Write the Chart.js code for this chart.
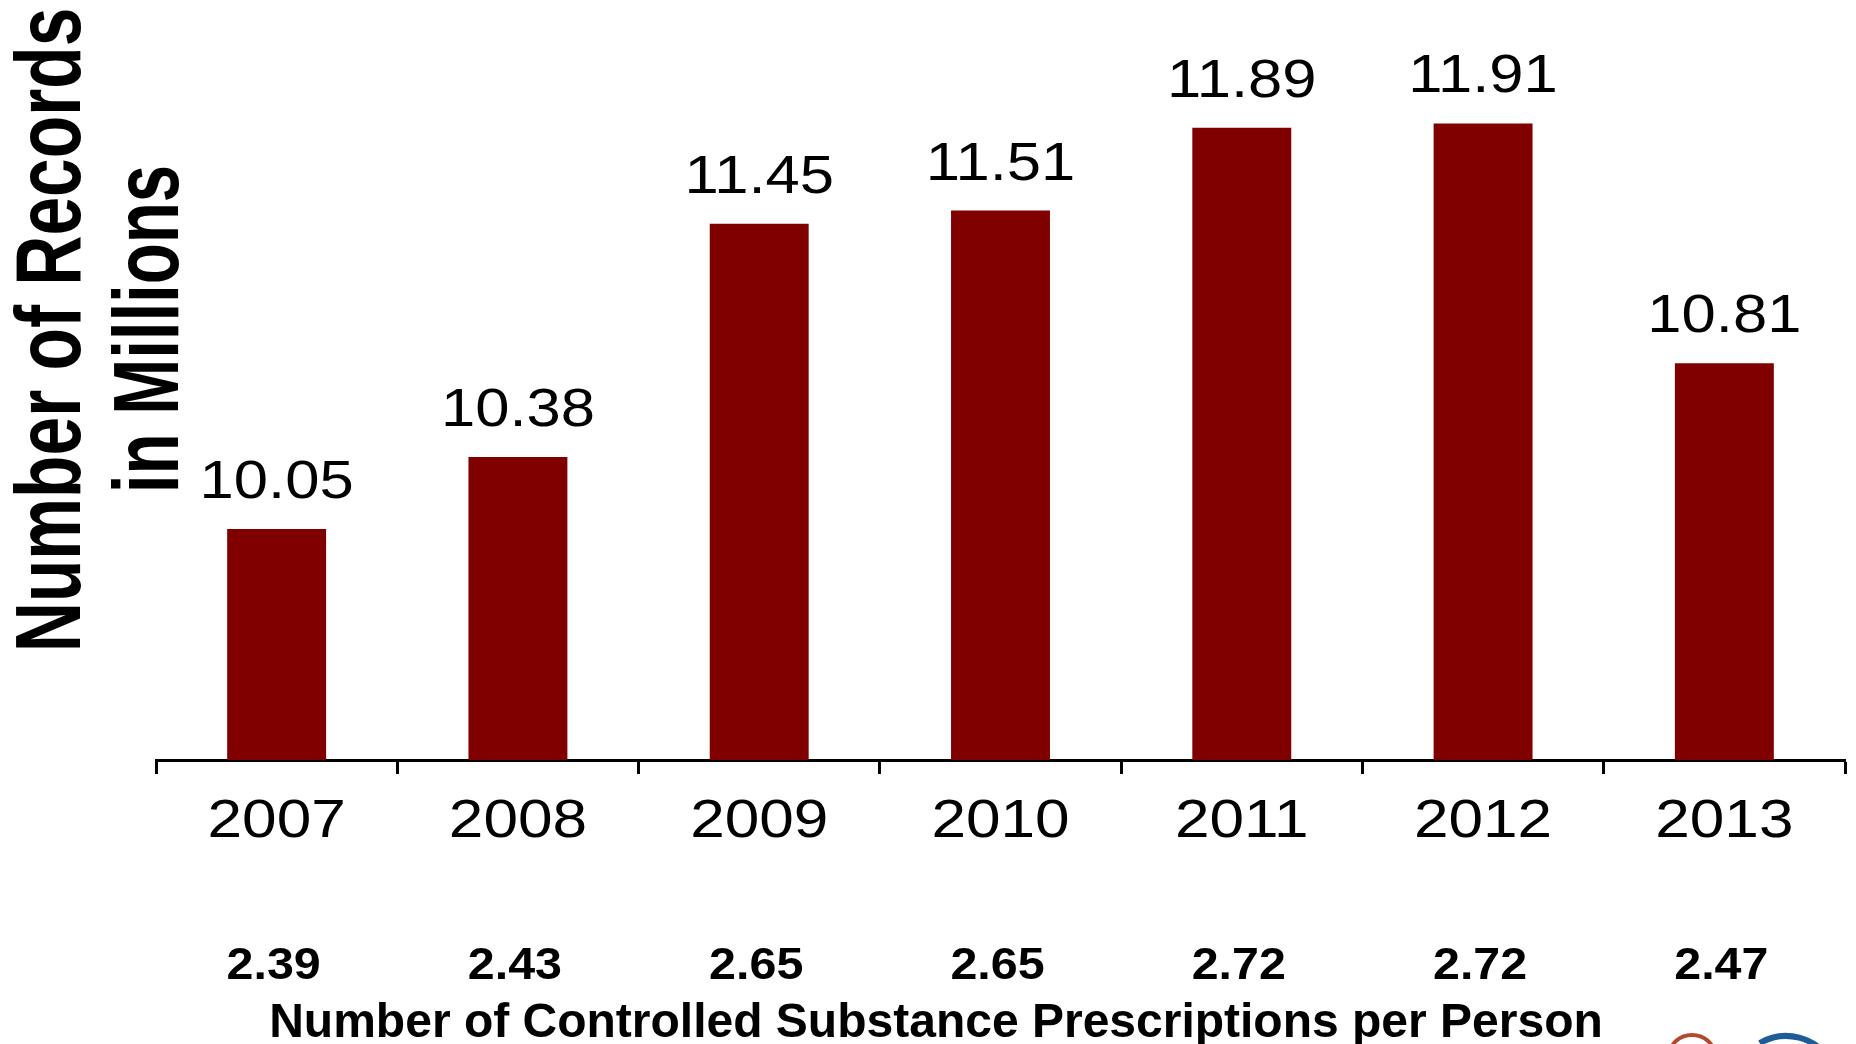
<!DOCTYPE html>
<html>
<head>
<meta charset="utf-8">
<script src="https://cdn.jsdelivr.net/npm/chart.js@4.4.1/dist/chart.umd.min.js"></script>
<style>
  html, body { margin: 0; padding: 0; background: #fff; }
  canvas { display: block; }
</style>
</head>
<body>
<canvas id="recordsChart" width="1856" height="1044"></canvas>
<script>
// Data
const years = ['2007', '2008', '2009', '2010', '2011', '2012', '2013'];
const recordsMillions = [10.05, 10.38, 11.45, 11.51, 11.89, 11.91, 10.81];
const rxPerPerson = ['2.39', '2.43', '2.65', '2.65', '2.72', '2.72', '2.47'];
const yTitleLines = ['Number of Records', 'in Millions'];
const xTitle = 'Number of Controlled Substance Prescriptions per Person';

const FONT = '"Liberation Sans", Arial, sans-serif';

// draw text squeezed/stretched along its own direction
function stretchText(ctx, text, x, y, sx, font, rotate) {
  ctx.save();
  ctx.translate(x, y);
  if (rotate) ctx.rotate(-Math.PI / 2);
  ctx.scale(sx, 1);
  ctx.font = font;
  ctx.fillStyle = '#000';
  ctx.textAlign = 'center';
  ctx.textBaseline = 'alphabetic';
  ctx.fillText(text, 0, 0);
  ctx.restore();
}

const textPlugin = {
  id: 'textPlugin',
  afterDraw(chart) {
    const ctx = chart.ctx;
    const xScale = chart.scales.x;
    const meta = chart.getDatasetMeta(0);

    // value labels above bars
    meta.data.forEach((bar, i) => {
      stretchText(ctx, recordsMillions[i].toFixed(2), bar.x, bar.y - 31, 1.14, '54px ' + FONT);
    });

    // year labels and prescriptions row
    years.forEach((yr, i) => {
      const cx = xScale.getPixelForValue(i);
      stretchText(ctx, yr, cx, 837, 1.15, '54px ' + FONT);
      stretchText(ctx, rxPerPerson[i], cx - 3, 979, 1.1, 'bold 44px ' + FONT);
    });

    // bottom title
    stretchText(ctx, xTitle, 936, 1037, 1.0, 'bold 48px ' + FONT);

    // rotated y title, two lines
    stretchText(ctx, yTitleLines[0], 80, 330, 0.755, 'bold 92px ' + FONT, true);
    stretchText(ctx, yTitleLines[1], 178, 329, 0.73, 'bold 92px ' + FONT, true);

    // bits of the logo cut off at the bottom right
    ctx.save();
    ctx.strokeStyle = '#b5472f';
    ctx.lineWidth = 4;
    ctx.beginPath();
    ctx.ellipse(1692, 1054, 22, 19, 0, 0, Math.PI * 2);
    ctx.stroke();
    ctx.strokeStyle = '#1d5c96';
    ctx.lineWidth = 6;
    ctx.beginPath();
    ctx.arc(1786, 1088, 52, -2.1, -0.35);
    ctx.stroke();
    ctx.restore();
  }
};

new Chart(document.getElementById('recordsChart'), {
  type: 'bar',
  data: {
    labels: years,
    datasets: [{
      label: 'Records (millions)',
      data: recordsMillions,
      backgroundColor: '#800000',
      borderWidth: 0,
      categoryPercentage: 1.0,
      barPercentage: 0.41
    }]
  },
  options: {
    responsive: false,
    devicePixelRatio: 1,
    animation: false,
    layout: { padding: { left: 156, right: 11, top: 82, bottom: 0 } },
    plugins: {
      legend: { display: false },
      tooltip: { enabled: false }
    },
    scales: {
      x: {
        grid: {
          display: true,
          drawOnChartArea: false,
          offset: true,
          tickLength: 14,
          tickWidth: 3,
          tickColor: '#000'
        },
        border: { display: true, color: '#000', width: 3 },
        ticks: { display: false },
        afterFit: s => { s.height = 284; }
      },
      y: {
        display: false,
        min: 8.99,
        max: 12.1
      }
    }
  },
  plugins: [textPlugin]
});
</script>
</body>
</html>
